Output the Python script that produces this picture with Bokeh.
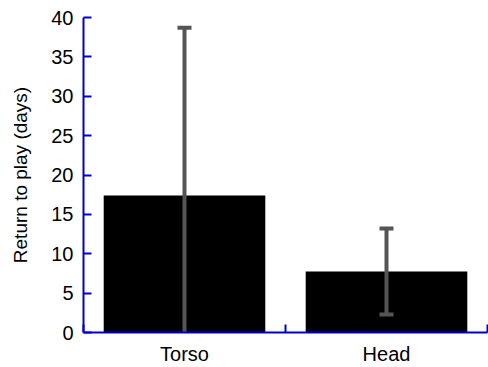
from bokeh.plotting import figure
from bokeh.models import FixedTicker, Range1d
from bokeh.embed import file_html
from bokeh.resources import INLINE

# Return-to-play time by injury site
categories = ["Torso", "Head"]
mean_days = [17.4, 7.75]
err_upper = [38.7, 13.2]
err_lower = [-3.9, 2.3]
y_ticks = [0, 5, 10, 15, 20, 25, 30, 35, 40]

FONT = "Liberation Sans"
AXIS_BLUE = "#0000CD"
ERR_GREY = "#555555"

xs = [i + 0.5 for i in range(len(categories))]

p = figure(width=488, height=367, output_backend="svg", toolbar_location=None,
           x_range=Range1d(0, len(categories)), y_range=Range1d(0, 40),
           min_border_left=83, min_border_right=1, min_border_top=17,
           min_border_bottom=33)
p.outline_line_color = None
p.xgrid.visible = False
p.ygrid.visible = False
p.background_fill_color = "white"
p.border_fill_color = "white"

# bars
p.vbar(x=xs, top=mean_days, width=0.8, fill_color="black", line_color=None)

# error bars
p.segment(x0=xs, y0=err_lower, x1=xs, y1=err_upper,
          line_color=ERR_GREY, line_width=4)
p.rect(x=xs, y=err_upper, width=14, height=4, width_units="screen",
       height_units="screen", fill_color=ERR_GREY, line_color=None)
low_x = [x for x, lo in zip(xs, err_lower) if lo > 0]
low_y = [lo for lo in err_lower if lo > 0]
p.rect(x=low_x, y=low_y, width=14, height=4, width_units="screen",
       height_units="screen", fill_color=ERR_GREY, line_color=None)

# x axis: labels at category centres, ticks at category boundaries
p.xaxis.ticker = FixedTicker(ticks=xs, minor_ticks=list(range(len(categories) + 1)))
p.xaxis.major_label_overrides = {x: c for x, c in zip(xs, categories)}
p.xaxis.major_tick_in = 0
p.xaxis.major_tick_out = 0
p.xaxis.minor_tick_in = 8
p.xaxis.minor_tick_out = 0
p.xaxis.minor_tick_line_color = AXIS_BLUE
p.xaxis.minor_tick_line_width = 2
p.xaxis.major_label_standoff = 10

# y axis
p.yaxis.ticker = FixedTicker(ticks=y_ticks, minor_ticks=[])
p.yaxis.major_tick_in = 8
p.yaxis.major_tick_out = 0
p.yaxis.major_tick_line_color = AXIS_BLUE
p.yaxis.major_tick_line_width = 2
p.yaxis.major_label_standoff = 10
p.yaxis.axis_label = "Return to play (days)"
p.yaxis.axis_label_standoff = 17
p.yaxis.axis_label_text_font = FONT
p.yaxis.axis_label_text_font_size = "19px"
p.yaxis.axis_label_text_font_style = "normal"
p.yaxis.axis_label_text_color = "black"

for ax in (p.xaxis, p.yaxis):
    ax.axis_line_color = AXIS_BLUE
    ax.axis_line_width = 2
    ax.major_label_text_font = FONT
    ax.major_label_text_color = "black"
p.yaxis.major_label_text_font_size = "20px"
p.xaxis.major_label_text_font_size = "20px"

open("out.html", "w").write(file_html(p, INLINE))
